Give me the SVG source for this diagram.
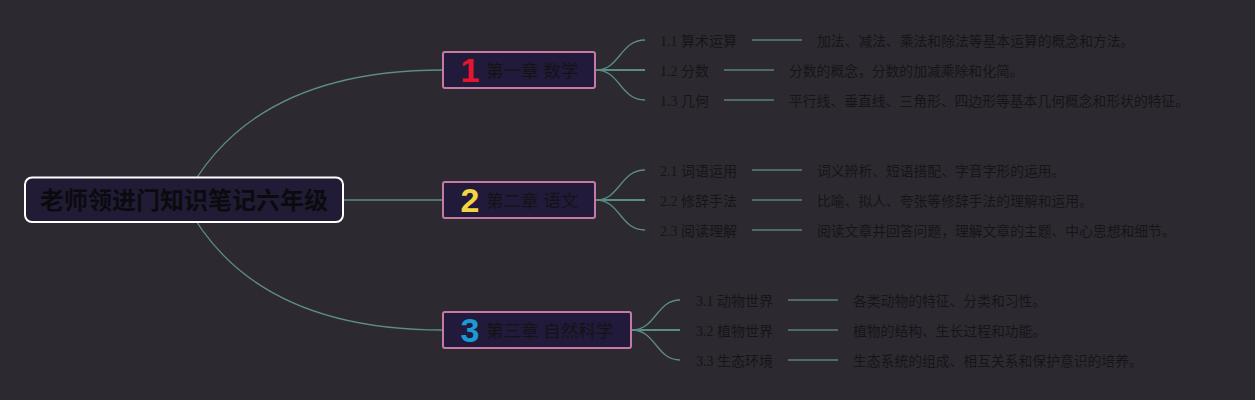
<svg xmlns="http://www.w3.org/2000/svg" width="1255" height="400" viewBox="0 0 1255 400">
<defs>
<style>
.bg{fill:#2d2930}
.curve{fill:none;stroke:#5b8c89;stroke-width:1.3}
.trunk{fill:none;stroke:#5b8c89;stroke-width:2}
.dash{fill:none;stroke:#4f6b69;stroke-width:2}
.root{fill:#211b36;stroke:#ffffff;stroke-width:2}
.chap{fill:#221a3a;stroke:#c47aa5;stroke-width:2}
.roottxt{font-family:"Liberation Sans","Noto Sans CJK SC",sans-serif;font-size:24px;font-weight:bold;fill:#0b0b0e}
.num{font-family:"Liberation Sans",sans-serif;font-size:34px;font-weight:bold;text-anchor:middle}
.chtxt{font-family:"Liberation Sans","Noto Sans CJK SC",sans-serif;font-size:17.5px;fill:#131316}
.sub{font-family:"Liberation Serif","Noto Sans CJK SC",serif;font-size:14px;fill:#151518}
.desc{font-family:"Liberation Sans","Noto Sans CJK SC",sans-serif;font-size:13.8px;fill:#151518}
</style>
</defs>
<rect class="bg" x="0" y="0" width="1255" height="400"/>
<g id="connectors">
<path class="curve" d="M184 200 Q250 70 443 70"/>
<path class="curve" d="M184 200 L443 200"/>
<path class="curve" d="M184 200 Q250 330 443 330"/>
<path class="curve" d="M596 70 C620 70 620 40 645 40"/>
<path class="trunk" d="M596 70 L645 70"/>
<path class="curve" d="M596 70 C620 70 620 100 645 100"/>
<path class="curve" d="M596 200 C620 200 620 170 645 170"/>
<path class="trunk" d="M596 200 L645 200"/>
<path class="curve" d="M596 200 C620 200 620 230 645 230"/>
<path class="curve" d="M632 330 C656 330 656 300 680 300"/>
<path class="trunk" d="M632 330 L680 330"/>
<path class="curve" d="M632 330 C656 330 656 360 680 360"/>
<path class="dash" d="M752 40 H802 M724 70 H774 M724 100 H774 M752 170 H802 M752 200 H802 M752 230 H802 M788 300 H838 M788 330 H838 M788 360 H838"/>
</g>
<g id="root">
<rect class="root" x="25" y="177.5" width="318" height="44.5" rx="7"/>
<text class="roottxt" x="184" y="209" text-anchor="middle">老师领进门知识笔记六年级</text>
</g>
<g id="chapter1">
<rect class="chap" x="443" y="52" width="152" height="36" rx="2"/>
<text class="num" x="470" y="82" fill="#e5162e">1</text>
<text class="chtxt" x="486" y="76.5">第一章 数学</text>
</g>
<g id="chapter2">
<rect class="chap" x="443" y="182" width="152" height="36" rx="2"/>
<text class="num" x="470" y="212" fill="#f3d443">2</text>
<text class="chtxt" x="486" y="206.5">第二章 语文</text>
</g>
<g id="chapter3">
<rect class="chap" x="443" y="312" width="188" height="36" rx="2"/>
<text class="num" x="470" y="342" fill="#1c9ad8">3</text>
<text class="chtxt" x="486" y="336.5">第三章 自然科学</text>
</g>
<g id="topic1-1"><text class="sub" x="660" y="46">1.1 算术运算</text></g>
<g id="desc1-1"><text class="desc" x="817" y="46">加法、减法、乘法和除法等基本运算的概念和方法。</text></g>
<g id="topic1-2"><text class="sub" x="660" y="76">1.2 分数</text></g>
<g id="desc1-2"><text class="desc" x="789" y="76">分数的概念，分数的加减乘除和化简。</text></g>
<g id="topic1-3"><text class="sub" x="660" y="106">1.3 几何</text></g>
<g id="desc1-3"><text class="desc" x="789" y="106">平行线、垂直线、三角形、四边形等基本几何概念和形状的特征。</text></g>
<g id="topic2-1"><text class="sub" x="660" y="176">2.1 词语运用</text></g>
<g id="desc2-1"><text class="desc" x="817" y="176">词义辨析、短语搭配、字音字形的运用。</text></g>
<g id="topic2-2"><text class="sub" x="660" y="206">2.2 修辞手法</text></g>
<g id="desc2-2"><text class="desc" x="817" y="206">比喻、拟人、夸张等修辞手法的理解和运用。</text></g>
<g id="topic2-3"><text class="sub" x="660" y="236">2.3 阅读理解</text></g>
<g id="desc2-3"><text class="desc" x="817" y="236">阅读文章并回答问题，理解文章的主题、中心思想和细节。</text></g>
<g id="topic3-1"><text class="sub" x="696" y="306">3.1 动物世界</text></g>
<g id="desc3-1"><text class="desc" x="853" y="306">各类动物的特征、分类和习性。</text></g>
<g id="topic3-2"><text class="sub" x="696" y="336">3.2 植物世界</text></g>
<g id="desc3-2"><text class="desc" x="853" y="336">植物的结构、生长过程和功能。</text></g>
<g id="topic3-3"><text class="sub" x="696" y="366">3.3 生态环境</text></g>
<g id="desc3-3"><text class="desc" x="853" y="366">生态系统的组成、相互关系和保护意识的培养。</text></g>
</svg>
